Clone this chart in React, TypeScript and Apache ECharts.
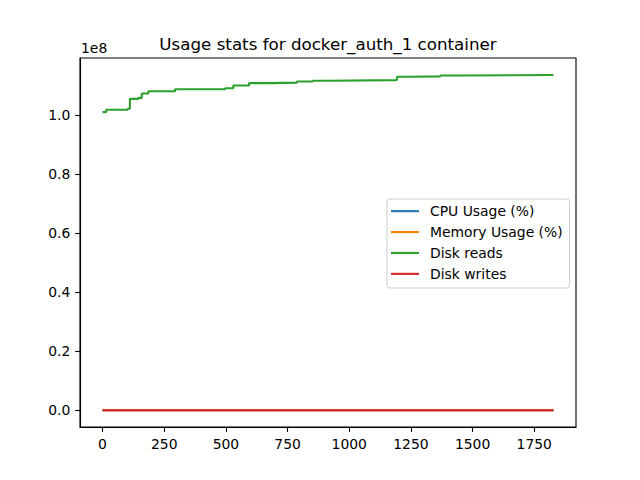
import React, { useEffect, useRef } from "react";
import * as echarts from "echarts";

const timeX = [0, 15, 102, 111, 146, 159, 186, 294, 497, 530, 594, 680, 788, 853, 914, 1189, 1194, 1245, 1369, 1448, 1828];
const diskReads = [
  100950000, 101760000, 102100000, 105450000, 105790000, 107240000, 108020000, 108710000,
  109040000, 109980000, 110760000, 110950000, 111340000, 111580000, 111780000, 112010000,
  112930000, 113050000, 113370000, 113500000, 113600000,
];
const cpuUsage = [0.5, 0.6, 0.4, 0.5, 0.5, 0.6, 0.5, 0.4, 0.5, 0.5, 0.6, 0.5, 0.4, 0.5, 0.5, 0.6, 0.5, 0.5, 0.4, 0.5, 0.5];
const memUsage = [3.1, 3.1, 3.2, 3.2, 3.2, 3.3, 3.3, 3.3, 3.3, 3.4, 3.4, 3.4, 3.4, 3.4, 3.5, 3.5, 3.5, 3.5, 3.5, 3.5, 3.5];
const diskWrites = [0, 0, 0, 0, 0, 0, 0, 0, 0, 0, 0, 0, 0, 0, 0, 0, 0, 0, 0, 0, 0];

const xTicks = [0, 250, 500, 750, 1000, 1250, 1500, 1750];
const yTicks = [0, 2e7, 4e7, 6e7, 8e7, 1e8];
const seriesNames = ["CPU Usage (%)", "Memory Usage (%)", "Disk reads", "Disk writes"];
const colors = ["#1f77b4", "#ff7f0e", "#2ca02c", "#d62728"];
const titleText = "Usage stats for docker_auth_1 container";

const FONT = "DejaVu Sans";

export default function App() {
  const ref = useRef<HTMLDivElement>(null);
  useEffect(() => {
    if (!ref.current) return;
    const chart = echarts.init(ref.current, null, { renderer: "svg" });
    const all = [...diskReads, ...cpuUsage, ...memUsage, ...diskWrites];
    const yMinD = Math.min(...all);
    const yMaxD = Math.max(...all);
    const yPad = (yMaxD - yMinD) * 0.05;
    const xMinD = Math.min(...timeX);
    const xMaxD = Math.max(...timeX);
    const xPad = (xMaxD - xMinD) * 0.05;
    const seriesData = [cpuUsage, memUsage, diskReads, diskWrites];
    chart.setOption({
      animation: false,
      color: colors,
      textStyle: { fontFamily: FONT },
      grid: {
        left: 80,
        right: 64,
        top: 58,
        bottom: 53,
        show: true,
        borderColor: "#000",
        borderWidth: 1.1,
        backgroundColor: "transparent",
      },
      xAxis: {
        type: "value",
        min: xMinD - xPad,
        max: xMaxD + xPad,
        splitLine: { show: false },
        axisLine: { show: true, onZero: false, lineStyle: { color: "#000", width: 1.1 } },
        axisTick: { show: true, length: 4.9, lineStyle: { color: "#000", width: 1.1 }, customValues: xTicks },
        axisLabel: {
          color: "#000",
          fontSize: 13.9,
          fontFamily: FONT,
          margin: 9.7,
          customValues: xTicks,
          formatter: (v: number) => String(Math.round(v)),
        },
      },
      yAxis: {
        type: "value",
        min: yMinD - yPad,
        max: yMaxD + yPad,
        splitLine: { show: false },
        axisLine: { show: true, onZero: false, lineStyle: { color: "#000", width: 1.1 } },
        axisTick: { show: true, length: 4.9, lineStyle: { color: "#000", width: 1.1 }, customValues: yTicks },
        axisLabel: {
          color: "#000",
          fontSize: 13.9,
          fontFamily: FONT,
          margin: 9.7,
          customValues: yTicks,
          formatter: (v: number) => (v / 1e8).toFixed(1),
        },
      },
      legend: {
        orient: "vertical",
        left: 387,
        top: 199,
        data: seriesNames.map((n) => ({ name: n, icon: "rect" })),
        itemWidth: 28,
        itemHeight: 2.1,
        itemGap: 4.6,
        padding: [4, 7, 6, 4],
        borderColor: "#cccccc",
        borderWidth: 1,
        borderRadius: 3,
        backgroundColor: "rgba(255,255,255,0.8)",
        textStyle: {
          fontSize: 13.9,
          fontFamily: FONT,
          color: "#000",
          lineHeight: 16.3,
          padding: [0, 0, 0, 6],
        },
      },
      graphic: [
        {
          type: "text",
          x: 328,
          y: 44,
          style: {
            text: titleText,
            fontSize: 16.7,
            fontFamily: FONT,
            fill: "#000",
            textAlign: "center",
            textVerticalAlign: "middle",
          },
        },
        {
          type: "text",
          x: 81,
          y: 48,
          style: {
            text: "1e8",
            fontSize: 13.9,
            fontFamily: FONT,
            fill: "#000",
            textAlign: "left",
            textVerticalAlign: "middle",
          },
        },
      ],
      series: seriesNames.map((name, i) => ({
        name,
        type: "line",
        step: "end",
        showSymbol: false,
        symbol: "none",
        data: timeX.map((x, j) => [x, seriesData[i][j]]),
        lineStyle: { width: 2.08, color: colors[i] },
        itemStyle: { color: colors[i] },
        z: 2 + i,
      })),
    });
    return () => chart.dispose();
  }, []);
  return (
    <div
      ref={ref}
      style={{ position: "absolute", left: 0, top: 0, width: 640, height: 480 }}
    />
  );
}
